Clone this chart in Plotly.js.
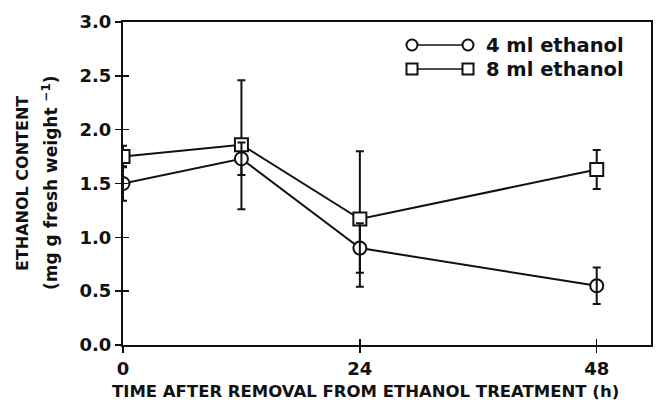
<!DOCTYPE html>
<html><head><meta charset="utf-8">
<script src="https://cdn.plot.ly/plotly-3.0.1.min.js"></script>
<style>html,body{margin:0;padding:0;background:#fff}</style>
</head><body><div id="chart" style="width:657px;height:404px"></div>
<script>
const hours = [0, 12, 24, 48];
const eth4 = [1.50, 1.73, 0.90, 0.55];
const eth4Err = [0.16, 0.15, 0.23, 0.17];
const eth8 = [1.75, 1.86, 1.17, 1.63];
const eth8Err = [0.10, 0.60, 0.63, 0.18];
const xTicks = [0, 24, 48];
const yTicks = [0, 0.5, 1.0, 1.5, 2.0, 2.5, 3.0];
const yTickText = ['0.0', '0.5', '1.0', '1.5', '2.0', '2.5', '3.0'];
const legendNames = ['4 ml ethanol', '8 ml ethanol'];
const xTitle = 'TIME AFTER REMOVAL FROM ETHANOL TREATMENT (h)';
const yTitle1 = 'ETHANOL CONTENT';
const yTitle2 = '(mg g fresh weight <sup>−1</sup>)';

const FONT = 'DejaVu Sans, sans-serif';
const ink = '#111';

const traces = [
  {x: hours, y: eth4, mode: 'lines', line: {color: ink, width: 2}, hoverinfo: 'skip'},
  {x: hours, y: eth8, mode: 'lines', line: {color: ink, width: 2}, hoverinfo: 'skip'},
  {x: hours, y: eth8, mode: 'markers', marker: {size: 0.1, color: 'rgba(0,0,0,0)'},
   error_y: {type: 'data', array: eth8Err, visible: true, color: ink, thickness: 2, width: 4}},
  {x: hours, y: eth8, mode: 'markers', marker: {symbol: 'square', size: 13, color: '#fff', line: {color: ink, width: 2}}},
  {x: hours, y: eth4, mode: 'markers', marker: {symbol: 'circle', size: 13, color: '#fff', line: {color: ink, width: 2}}},
  {x: hours, y: eth4, mode: 'markers', marker: {size: 0.1, color: 'rgba(0,0,0,0)'},
   error_y: {type: 'data', array: eth4Err, visible: true, color: ink, thickness: 2, width: 4}},
  {x: [0], y: [0], xaxis: 'x2', yaxis: 'y2', mode: 'markers', marker: {opacity: 0}, hoverinfo: 'skip'}
];

const W = 528, H = 323;
const px = v => (v - 123) / W;
const py = v => (345 - v) / H;
const rows = [py(45), py(69)];
const shapes = [];
const annotations = [];
const x1 = px(412), x2 = px(468);
rows.forEach((ry, i) => {
  shapes.push({type: 'line', xref: 'paper', yref: 'paper', x0: x1 + 6/W, x1: x2 - 6/W, y0: ry, y1: ry, line: {color: ink, width: 1.5}});
  [x1, x2].forEach(cx => {
    shapes.push({type: i === 0 ? 'circle' : 'rect', xref: 'paper', yref: 'paper',
      x0: cx - 5.5/W, x1: cx + 5.5/W, y0: ry - 5.5/H, y1: ry + 5.5/H, line: {color: ink, width: 2}, fillcolor: '#fff'});
  });
  annotations.push({xref: 'paper', yref: 'paper', x: px(484), y: ry, xanchor: 'left', yanchor: 'middle',
    text: '<b>' + legendNames[i] + '</b>', showarrow: false, font: {family: FONT, size: 19.5, color: ink}});
});
annotations.push({xref: 'paper', yref: 'paper', x: px(365), y: py(391), xanchor: 'center', yanchor: 'middle',
  text: '<b>' + xTitle + '</b>', showarrow: false, font: {family: FONT, size: 16.5, color: ink}});
annotations.push({xref: 'paper', yref: 'paper', x: px(22), y: py(184), xanchor: 'center', yanchor: 'middle', textangle: -90,
  text: '<b>' + yTitle1 + '</b>', showarrow: false, font: {family: FONT, size: 16, color: ink}});
annotations.push({xref: 'paper', yref: 'paper', x: px(50), y: py(183), xanchor: 'center', yanchor: 'middle', textangle: -90,
  text: '<b>' + yTitle2 + '</b>', showarrow: false, font: {family: FONT, size: 17, color: ink}});

const layout = {
  width: 657, height: 404,
  margin: {l: 123, r: 6, t: 22, b: 59},
  paper_bgcolor: '#fff', plot_bgcolor: '#fff',
  showlegend: false,
  font: {family: FONT, size: 16, color: ink},
  xaxis: {range: [0, 53.5], tickvals: xTicks, ticktext: xTicks.map(v => '<b>' + v + '</b>'), ticks: 'outside', ticklen: 6, tickwidth: 1.5, tickcolor: ink,
    showline: true, linewidth: 2, linecolor: ink, mirror: true, showgrid: false, zeroline: false,
    tickfont: {family: FONT, size: 18, color: ink}},
  yaxis: {range: [0, 3.0], tickvals: yTicks, ticktext: yTickText.map(v => '<b>' + v + '</b>'), ticks: 'outside', ticklen: 6, tickwidth: 1.5, tickcolor: ink,
    showline: true, linewidth: 2, linecolor: ink, mirror: true, showgrid: false, zeroline: false,
    tickfont: {family: FONT, size: 18, color: ink}},
  xaxis2: {overlaying: 'x', range: [0, 53.5], tickvals: xTicks, ticks: 'inside', ticklen: 6, tickwidth: 1.5, tickcolor: ink,
    showticklabels: false, showline: false, showgrid: false, zeroline: false, anchor: 'y'},
  yaxis2: {overlaying: 'y', range: [0, 3.0], tickvals: yTicks, ticks: 'inside', ticklen: 6, tickwidth: 1.5, tickcolor: ink,
    showticklabels: false, showline: false, showgrid: false, zeroline: false, anchor: 'x', side: 'left'},
  shapes: shapes,
  annotations: annotations
};

Plotly.newPlot('chart', traces, layout, {displayModeBar: false, staticPlot: true});
</script></body></html>
